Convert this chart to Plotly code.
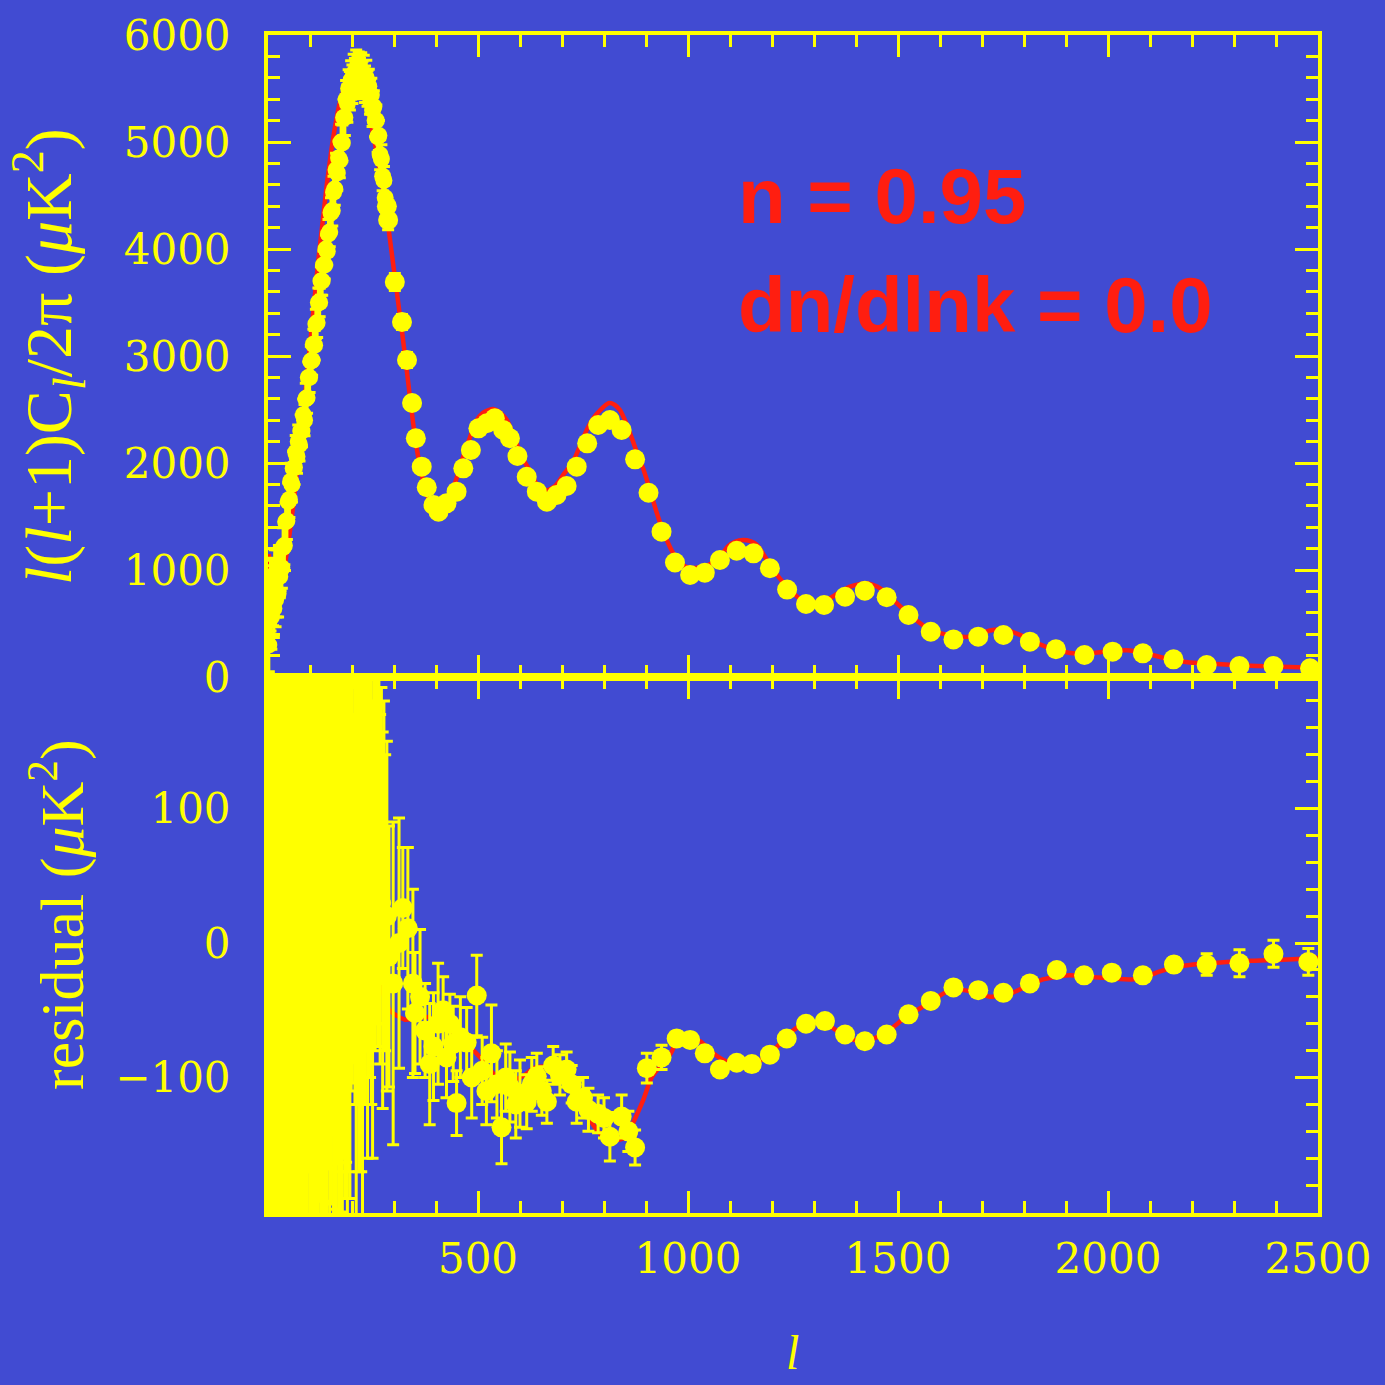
import plotly.graph_objects as go
from plotly.subplots import make_subplots

# ---------------- data ----------------
# low-l (dense) points
low_ell = [2, 4, 6, 8, 10, 12, 14, 16, 18, 20, 22, 24, 26, 28, 30,
           33, 36, 39, 42, 45, 48, 51, 54, 57, 60, 63, 66, 69, 72, 75, 78, 81, 84, 87, 90,
           93, 96, 99, 102, 105, 108, 111, 114, 117, 120, 123, 126, 129, 132, 135, 138,
           141, 144, 147, 150, 153, 156, 159, 162, 165, 168, 171,
           174, 177, 180, 183, 186, 189, 192, 195, 198, 201, 204, 207, 210, 213, 216, 219,
           222, 225, 228, 231, 234, 237, 240, 243, 246, 249, 252, 255, 258, 261, 264, 267,
           270, 273, 276, 279]
low_dl = [300, 650, 760, 560, 820, 760, 640, 930, 720, 800, 960, 780, 1020, 940, 1000,
          1020, 1210, 1230, 1450, 1460, 1640, 1660, 1830, 1800, 1950, 1960, 2100, 2060, 2200, 2170, 2300,
          2300, 2450, 2400, 2600, 2610, 2800, 2800, 2950, 2960, 3110, 3100, 3300, 3310, 3500, 3500,
          3700, 3700, 3850, 3850, 4000, 3980, 4140, 4160, 4340, 4360, 4530, 4560, 4740, 4710, 4850, 4830,
          5000, 4990, 5230, 5230, 5400, 5360, 5500, 5480, 5580, 5540, 5640, 5600, 5680, 5620, 5660, 5600,
          5660, 5580, 5640, 5540, 5600, 5500, 5520, 5420, 5440, 5300, 5330, 5200, 5200, 5050, 5060, 4880,
          4840, 4680, 4640, 4480]
low_dl_err = [250, 350, 330, 300, 290, 280, 270, 260, 250, 240, 230, 220, 210, 200, 195,
              190, 185, 180, 178, 175, 172, 170, 168, 165, 162, 160, 158, 156, 154, 152, 150,
              148, 147, 146, 145, 144, 143, 142, 141, 140, 139, 138, 137, 136, 135, 134, 133,
              132, 131, 130, 130, 130, 135, 140, 140, 145, 150, 150, 155, 160, 160, 165,
              165, 170, 170, 170, 175, 175, 175, 180, 180, 180, 180, 180, 180, 180, 180, 180,
              175, 175, 170, 170, 165, 165, 160, 160, 155, 155, 150, 150, 145, 145, 140, 140,
              135, 135, 130, 130]
low_resid = [150, -120, 80, -60, 120, 30, -90, 60, -30, 100, -50, 20, 70, -80, 40,
             60, -40, 90, -20, 50, 110, -60, 30, 80, -10, 40, 120, -30, 70, 20, 100,
             -50, 60, 10, 90, -20, 130, 40, 70, -40, 80, 30, 110, -10, 60, 90, 20,
             140, 50, -30, 80, 40, 100, 10, 70, 120, 30, 60, -20, 90, 40, 80,
             30, -20, 60, 10, 40, -10, 70, 20, 90, 50, 40, 100, -30, 60, 20, 80,
             30, -10, 120, 60, 90, 20, 150, 80, 50, 10, 110, 60, 140, 176, 100, 40,
             80, 17, 60, 30]
low_resid_err = [900, 700, 600, 550, 500, 480, 460, 440, 420, 400, 390, 380, 370, 360, 350,
                 345, 340, 338, 336, 334, 332, 330, 328, 326, 324, 322, 320, 318, 316, 314, 312,
                 310, 308, 306, 304, 302, 300, 298, 296, 294, 292, 290, 288, 286, 284, 282, 280,
                 278, 276, 274, 272, 270, 268, 266, 264, 262, 260, 258, 256, 254, 252, 250,
                 230, 250, 220, 200, 203, 220, 240, 210, 200, 154, 129, 220, 200, 180, 190, 137,
                 200, 210, 200, 180, 170, 180, 200, 180, 170, 170, 150, 140, 200, 253, 177, 130,
                 110, 140, 120, 110]

# binned points, upper panel
bin_ell = [283, 286, 302, 319, 331, 343, 352, 366, 378, 394, 406, 425, 449, 465, 483, 501,
           521, 540, 560, 576, 594, 616, 640, 664, 687, 711, 735, 760, 786, 814, 842, 874,
           906, 937, 969, 1005, 1040, 1076, 1116, 1156, 1195, 1236, 1281, 1324, 1374, 1421,
           1473, 1525, 1578, 1632, 1691, 1751, 1814, 1876, 1944, 2011, 2083, 2156, 2235,
           2313, 2394, 2481]
bin_dl = [4400, 4271, 3692, 3318, 2963, 2561, 2231, 1966, 1773, 1607, 1545, 1623, 1732, 1950,
          2121, 2324, 2371, 2418, 2308, 2231, 2065, 1872, 1732, 1638, 1701, 1785, 1966, 2184,
          2355, 2402, 2308, 2034, 1722, 1358, 1070, 953, 975, 1093, 1180, 1156, 1016, 817,
          682, 673, 750, 807, 745, 579, 423, 351, 377, 393, 330, 259, 206, 237, 221, 165, 112,
          103, 103, 81]
bin_dl_err = [90, 90, 80, 70, 70, 60, 60, 55, 50, 50, 50, 45, 45, 45, 45, 45,
              45, 45, 40, 40, 40, 35, 35, 35, 30, 30, 30, 30, 30, 30, 30, 25,
              25, 25, 20, 20, 20, 20, 20, 20, 20, 20, 20, 20, 20, 20,
              20, 20, 20, 20, 20, 20, 20, 20, 20, 20, 20, 20, 25, 25, 30, 30]

# residual points, lower panel
res_ell = [283, 288, 298, 312, 321, 333, 345, 350, 362, 374, 385, 394, 405, 417, 425, 433,
           441, 449, 458, 473, 485, 497, 510, 520, 532, 545, 556, 566, 576, 590, 600, 616,
           628, 640, 652, 664, 679, 695, 711, 723, 735, 750, 763, 786, 800, 814, 842, 858,
           874, 902, 937, 973, 1005, 1040, 1076, 1116, 1152, 1195, 1235, 1281, 1326, 1374,
           1421, 1473, 1525, 1578, 1632, 1691, 1751, 1814, 1878, 1943, 2009, 2083, 2157,
           2235, 2313, 2394, 2477]
res_val = [20, -10, -30, 0, 26, 11, -30, -52, -40, -65, -90, -77, -60, -50, -85, -60,
           -75, -119, -70, -74, -100, -39, -95, -110, -82, -105, -137, -100, -107, -120, -112, -118,
           -105, -99, -110, -118, -91, -98, -94, -105, -118, -115, -124, -127, -130, -144, -129, -140,
           -152, -93, -85, -71, -72, -82, -94, -89, -90, -83, -71, -60, -58, -68,
           -73, -68, -53, -43, -33, -35, -37, -30, -20, -24, -22, -24, -16,
           -16, -15, -8, -14]
res_err = [130, 97, 120, 93, 45, 60, 70, 45, 50, 35, 45, 40, 45, 25, 30, 22,
           28, 24, 30, 26, 30, 30, 25, 25, 36, 25, 27, 25, 26, 25, 25, 20,
           20, 17, 18, 16, 14, 15, 13, 14, 16, 15, 16, 14, 15, 18, 16, 15,
           13, 11, 9, 5, 5, 4, 4, 4, 4, 4, 4, 4, 4, 4,
           4, 4, 4, 4, 4, 4, 4, 4, 4, 4, 4, 4, 5,
           8, 10, 10, 10]

# model curve, upper panel
model_ell = [2, 10, 20, 30, 40, 50, 60, 70, 80, 90, 100, 110, 120, 130, 140, 150, 160, 170,
             180, 190, 200, 210, 220, 230, 240, 250, 260, 270, 280, 290, 300, 310, 320, 333,
             345, 357, 369, 383, 398, 412, 428, 445, 463, 481, 497, 512, 525, 536, 550, 569,
             582, 595, 608, 620, 642, 664, 685, 705, 726, 743, 759, 775, 790, 812, 825, 838,
             852, 866, 880, 893, 910, 926, 942, 957, 972, 986, 1003, 1021, 1040, 1060, 1078,
             1095, 1113, 1131, 1148, 1164, 1184, 1203, 1219, 1235, 1253, 1271, 1292, 1314,
             1338, 1362, 1386, 1410, 1430, 1450, 1474, 1497, 1525, 1552, 1576, 1600, 1632,
             1664, 1692, 1719, 1740, 1759, 1783, 1807, 1830, 1854, 1880, 1910, 1937, 1964,
             2000, 2045, 2085, 2124, 2150, 2179, 2220, 2259, 2300, 2354, 2400, 2433, 2470, 2500]
model_dl = [1150, 850, 830, 900, 1050, 1300, 1600, 1950, 2300, 2700, 3100, 3500, 3900, 4250,
            4600, 4900, 5150, 5350, 5480, 5560, 5590, 5570, 5510, 5400, 5260, 5080, 4870, 4640,
            4400, 4100, 3800, 3500, 3200, 2780, 2390, 2070, 1840, 1660, 1580, 1590, 1680, 1810,
            2040, 2240, 2400, 2470, 2495, 2505, 2480, 2400, 2280, 2150, 2030, 1950, 1790, 1745,
            1790, 1900, 2010, 2160, 2310, 2420, 2490, 2560, 2545, 2495, 2380, 2235, 2080, 1950,
            1740, 1530, 1350, 1215, 1110, 1050, 1020, 1020, 1035, 1070, 1130, 1220, 1265, 1280,
            1270, 1235, 1120, 1000, 920, 845, 775, 720, 700, 700, 735, 795, 845, 870, 875, 845,
            780, 690, 590, 505, 440, 410, 385, 375, 400, 435, 445, 440, 405, 365, 320, 280, 250,
            225, 220, 225, 240, 250, 225, 187, 165, 142, 128, 121, 112, 103, 97, 93, 88, 84]

# model curve, residual panel
model_res_ell = [2, 6, 12, 30, 60, 100, 150, 200, 235, 262, 290, 326, 350, 381, 410, 449,
                 480, 505, 525, 544, 565, 583, 600, 616, 632, 648, 664, 679, 695, 711, 730,
                 750, 766, 783, 800, 821, 838, 854, 869, 893, 913, 933, 950, 961, 971, 985,
                 1005, 1029, 1060, 1084, 1110, 1140, 1168, 1195, 1222, 1250, 1278, 1306, 1338,
                 1369, 1395, 1417, 1440, 1465, 1495, 1521, 1550, 1576, 1600, 1624, 1655, 1688,
                 1719, 1740, 1765, 1800, 1845, 1880, 1910, 1950, 2000, 2060, 2090, 2124, 2160,
                 2203, 2283, 2362, 2441, 2500]
model_res = [185, 140, 110, 95, 80, 60, 40, 25, 5, -25, -50, -57, -56, -55, -60, -68,
             -77, -85, -93, -99, -102, -102, -100, -97, -93, -92, -92, -94, -98, -104, -112,
             -122, -131, -139, -144, -146, -146, -144, -134, -117, -100, -92, -86, -81, -74, -72,
             -72, -73, -82, -87, -90, -92, -88, -82, -74, -65, -60, -59, -62,
             -68, -72, -73, -71, -68, -61, -54, -49, -44, -39, -35, -35, -37,
             -40, -39, -38, -33, -27, -25, -24, -25, -26, -27, -25, -21, -18,
             -16, -14, -13, -12, -11]

x_tick_vals = [500, 1000, 1500, 2000, 2500]
y_tick_vals_top = [0, 1000, 2000, 3000, 4000, 5000, 6000]
y_tick_vals_res = [-100, 0, 100]

# ---------------- styling ----------------
BG = "#414BD2"
YEL = "#FFFF00"
RED = "#FF1E10"
W, H = 1385, 1385


def px_x(p):
    return p / W


def px_y(p):
    return 1 - p / H


fig = make_subplots(rows=2, cols=1, shared_xaxes=True, vertical_spacing=0)

# upper panel
fig.add_trace(go.Scatter(x=model_ell, y=model_dl, mode="lines",
                         line=dict(color=RED, width=4.5, shape="spline", smoothing=0.6),
                         hoverinfo="skip"), row=1, col=1)
fig.add_trace(go.Scatter(x=low_ell, y=low_dl, mode="markers",
                         marker=dict(color=YEL, size=17, symbol="circle", line=dict(width=0)),
                         error_y=dict(type="data", array=low_dl_err, color=YEL, thickness=3, width=6)),
              row=1, col=1)
fig.add_trace(go.Scatter(x=bin_ell, y=bin_dl, mode="markers",
                         marker=dict(color=YEL, size=20, symbol="circle", line=dict(width=0)),
                         error_y=dict(type="data", array=bin_dl_err, color=YEL, thickness=3, width=6)),
              row=1, col=1)

# lower panel
fig.add_hline(y=0, line=dict(color=YEL, width=4), row=2, col=1)
fig.add_trace(go.Scatter(x=model_res_ell, y=model_res, mode="lines",
                         line=dict(color=RED, width=4.5, shape="spline", smoothing=0.6),
                         hoverinfo="skip"), row=2, col=1)
fig.add_trace(go.Scatter(x=low_ell, y=low_resid, mode="markers",
                         marker=dict(color=YEL, size=12, symbol="circle", line=dict(width=0)),
                         error_y=dict(type="data", array=low_resid_err, color=YEL, thickness=3, width=6)),
              row=2, col=1)
fig.add_trace(go.Scatter(x=res_ell, y=res_val, mode="markers",
                         marker=dict(color=YEL, size=20, symbol="circle", line=dict(width=0)),
                         error_y=dict(type="data", array=res_err, color=YEL, thickness=3, width=6)),
              row=2, col=1)

tick_font = dict(family="DejaVu Serif", size=42, color=YEL)
common = dict(showline=True, linecolor=YEL, linewidth=4, mirror="allticks",
              ticks="inside", tickcolor=YEL, tickwidth=3, showgrid=False, zeroline=False,
              tickfont=tick_font, automargin=False)

x_dom = [px_x(268), px_x(1318)]
fig.update_layout(
    width=W, height=H,
    margin=dict(l=0, r=0, t=0, b=0, pad=0, autoexpand=False),
    paper_bgcolor=BG, plot_bgcolor=BG,
    showlegend=False,
    xaxis=dict(domain=x_dom, range=[0, 2500], tickmode="array", tickvals=x_tick_vals,
               ticklen=22, showticklabels=False,
               minor=dict(tickmode="linear", tick0=0, dtick=100, ticklen=12, tickwidth=3,
                          tickcolor=YEL, ticks="inside"), **common),
    xaxis2=dict(domain=x_dom, range=[0, 2500], tickmode="array", tickvals=x_tick_vals,
                ticklen=22, showticklabels=True, ticklabelstandoff=6,
                minor=dict(tickmode="linear", tick0=0, dtick=100, ticklen=12, tickwidth=3,
                           tickcolor=YEL, ticks="inside"), **common),
    yaxis=dict(domain=[px_y(677), px_y(35)], range=[0, 6000], tickmode="array",
               tickvals=y_tick_vals_top, ticklen=23, ticklabelstandoff=25,
               minor=dict(tickmode="linear", tick0=0, dtick=200, ticklen=12, tickwidth=3,
                          tickcolor=YEL, ticks="inside"), **common),
    yaxis2=dict(domain=[px_y(1213), px_y(677)], range=[-200.7, 197.8], tickmode="array",
                tickvals=y_tick_vals_res, ticklen=23, ticklabelstandoff=25,
                minor=dict(tickmode="linear", tick0=0, dtick=20, ticklen=12, tickwidth=3,
                           tickcolor=YEL, ticks="inside"), **common),
)

annotations = [
    dict(text="<b>n = 0.95</b>", x=px_x(736), y=px_y(196), xref="paper", yref="paper",
         xanchor="left", yanchor="middle", showarrow=False,
         font=dict(family="Liberation Sans", size=78, color=RED)),
    dict(text="<b>dn/dlnk = 0.0</b>", x=px_x(736), y=px_y(305), xref="paper", yref="paper",
         xanchor="left", yanchor="middle", showarrow=False,
         font=dict(family="Liberation Sans", size=78, color=RED)),
    dict(text="<i>l</i>(<i>l</i>+1)C<sub><i>l</i></sub>/2π (<i>μ</i>K<sup>2</sup>)",
         x=px_x(48), y=px_y(357), xref="paper", yref="paper", textangle=-90,
         xanchor="center", yanchor="middle", showarrow=False,
         font=dict(family="Liberation Serif", size=66, color=YEL)),
    dict(text="residual (<i>μ</i>K<sup>2</sup>)",
         x=px_x(58), y=px_y(915), xref="paper", yref="paper", textangle=-90,
         xanchor="center", yanchor="middle", showarrow=False,
         font=dict(family="Liberation Serif", size=62, color=YEL)),
    dict(text="<i>l</i>", x=px_x(792), y=px_y(1352), xref="paper", yref="paper",
         xanchor="center", yanchor="middle", showarrow=False,
         font=dict(family="Liberation Serif", size=48, color=YEL)),
]
fig.update_layout(annotations=annotations)

fig.write_html("out.html", config={"displayModeBar": False},
               post_script="document.body.style.margin='0';document.body.style.overflow='hidden';")
